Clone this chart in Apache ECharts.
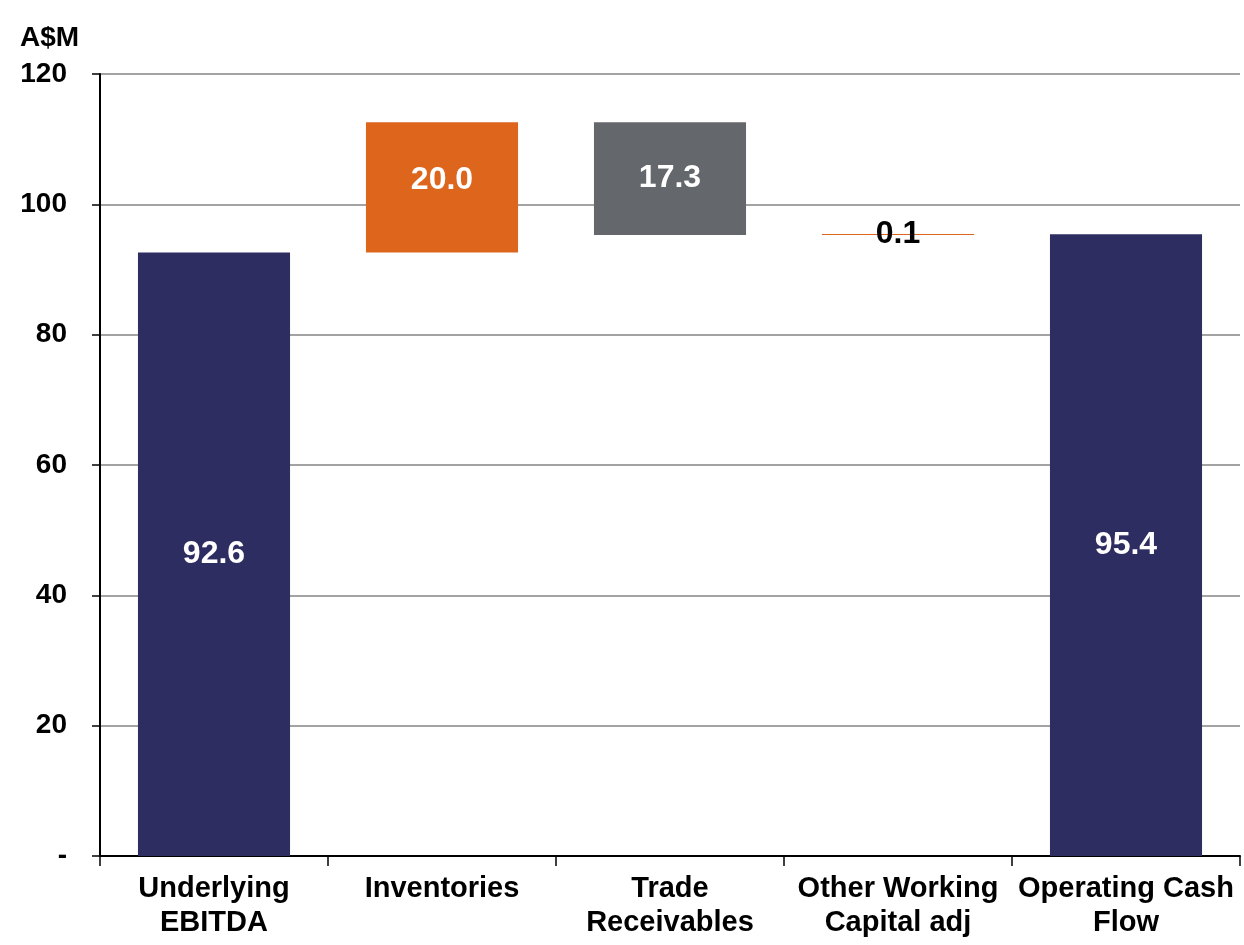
<!DOCTYPE html>
<html>
<head>
<meta charset="utf-8">
<script src="https://cdn.jsdelivr.net/npm/echarts@6/dist/echarts.min.js"></script>
<style>
html,body{margin:0;padding:0;background:#fff;}
#chart{width:1244px;height:945px;}
</style>
</head>
<body>
<div id="chart"></div>
<script>
const categories = ['Underlying\nEBITDA', 'Inventories', 'Trade\nReceivables', 'Other Working\nCapital adj', 'Operating Cash\nFlow'];
// signed values: totals are 'total', steps are changes
const values = [92.6, 20.0, -17.3, 0.1, 95.4];
const kinds = ['total', 'step', 'step', 'step', 'total'];
const colors = ['#2E2D62', '#DD651C', '#64676B', '#DD651C', '#2E2D62'];
const labelColors = ['#ffffff', '#ffffff', '#ffffff', '#000000', '#ffffff'];

// build waterfall base/heights
let running = 0;
const base = [], height = [];
values.forEach((v, i) => {
  if (kinds[i] === 'total') {
    base.push(0); height.push(v); running = v;
  } else {
    const start = running, end = running + v;
    base.push(Math.min(start, end));
    height.push(Math.abs(v));
    running = end;
  }
});

const FONT = 'Liberation Sans, Arial, sans-serif';
const chart = echarts.init(document.getElementById('chart'));
chart.setOption({
  animation: false,
  title: {
    text: 'A$M', left: 15, top: 19,
    textStyle: { fontFamily: FONT, fontWeight: 'bold', fontSize: 28, color: '#000' }
  },
  grid: { left: 100, right: 4, top: 74, bottom: 89, containLabel: false },
  xAxis: {
    type: 'category',
    data: categories,
    axisLine: { lineStyle: { color: '#000', width: 2 } },
    axisTick: { show: true, length: 10, lineStyle: { color: '#000', width: 1.5 } },
    axisLabel: {
      interval: 0, margin: 16, color: '#000',
      fontFamily: FONT, fontWeight: 'bold', fontSize: 29, lineHeight: 34
    }
  },
  yAxis: {
    type: 'value', min: 0, max: 120, interval: 20,
    axisLine: { show: true, lineStyle: { color: '#000', width: 2 } },
    axisTick: { show: true, inside: false, length: 8, lineStyle: { color: '#000', width: 1.5 } },
    splitLine: { show: true, lineStyle: { color: '#858585', width: 1.5 } },
    axisLabel: {
      margin: 33, color: '#000', fontFamily: FONT, fontWeight: 'bold', fontSize: 28,
      formatter: v => (v === 0 ? '-' : String(v))
    }
  },
  series: [
    {
      type: 'bar', stack: 'wf', barWidth: '66.7%',
      itemStyle: { color: 'transparent' },
      emphasis: { disabled: true },
      data: base
    },
    {
      type: 'bar', stack: 'wf', barWidth: '66.7%', barMinHeight: 1,
      data: height.map((h, i) => ({
        value: h,
        itemStyle: { color: colors[i] },
        label: {
          show: true, position: 'inside',
          offset: i === 1 ? [0, -7] : [0, 0],
          color: labelColors[i], fontFamily: FONT, fontWeight: 'bold', fontSize: 32,
          formatter: () => Math.abs(values[i]).toFixed(1)
        }
      }))
    }
  ]
});
</script>
</body>
</html>
